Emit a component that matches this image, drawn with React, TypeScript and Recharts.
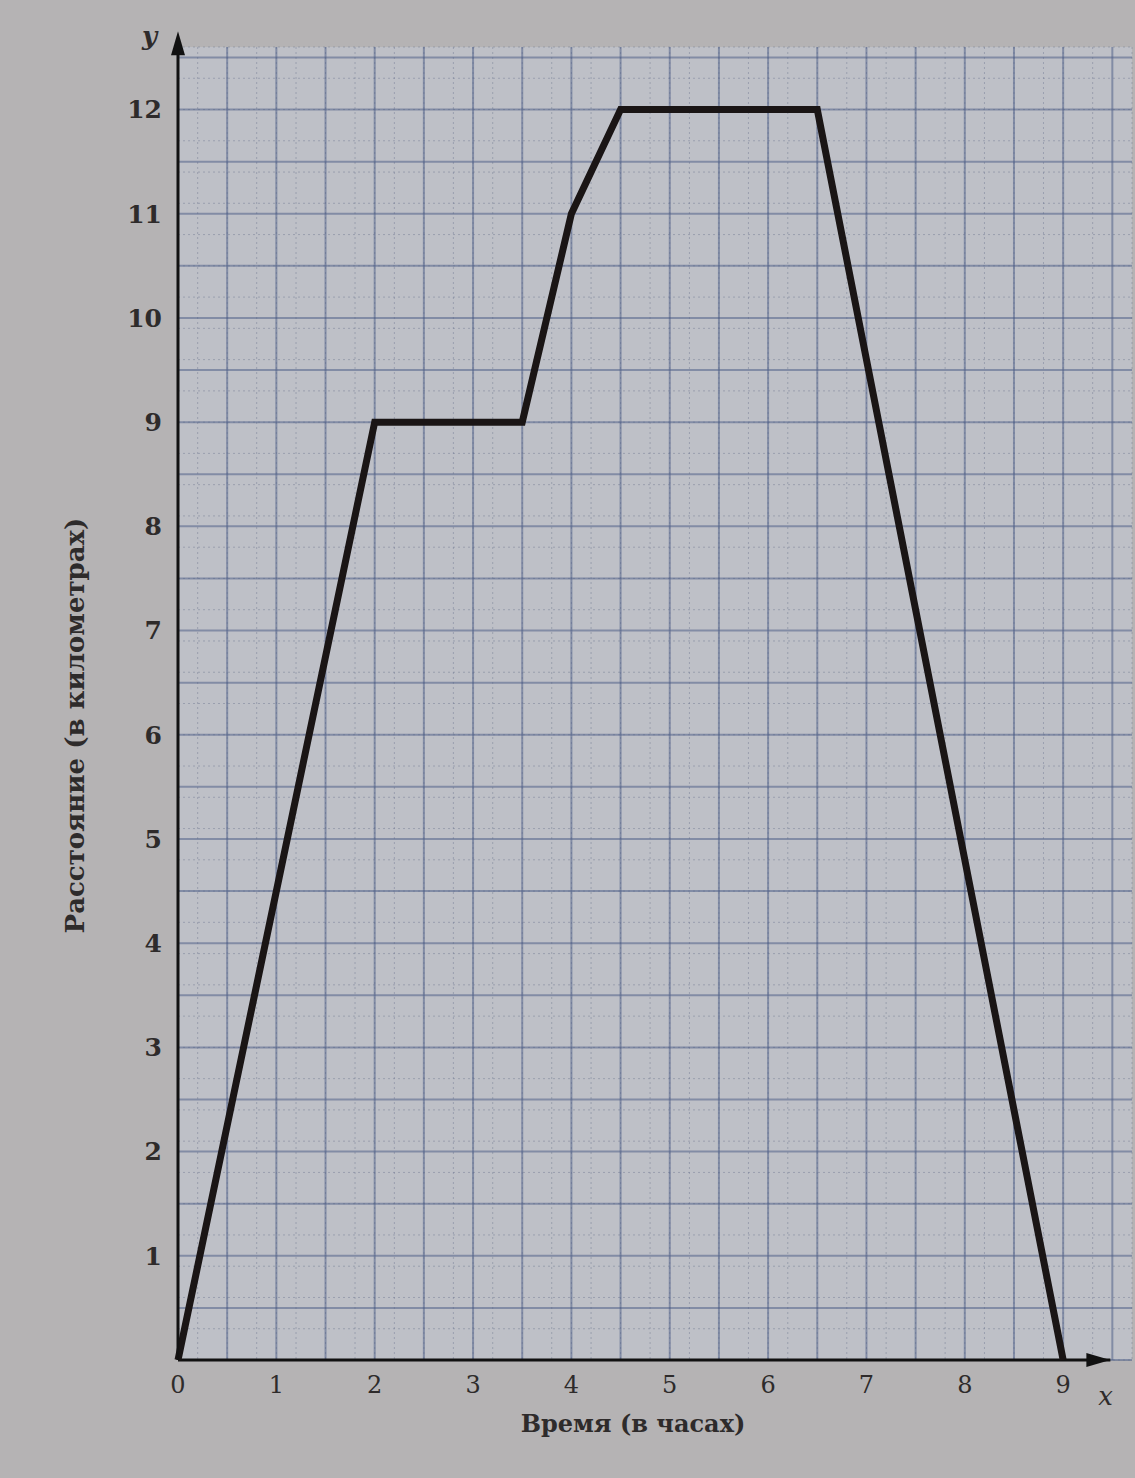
import React from 'react';
import {
  LineChart,
  Line,
  XAxis,
  YAxis,
  CartesianGrid,
  ReferenceDot,
  ReferenceLine,
} from 'recharts';

// Data
const timeHours = [0, 2, 3.5, 4, 4.5, 6.5, 9];
const distanceKm = [0, 9, 9, 11, 12, 12, 0];
const xTicks = [0, 1, 2, 3, 4, 5, 6, 7, 8, 9];
const yTicks = [1, 2, 3, 4, 5, 6, 7, 8, 9, 10, 11, 12];
const xAxisTitle = 'Время (в часах)';
const yAxisTitle = 'Расстояние (в километрах)';

const data = timeHours.map((t, i) => ({ t, d: distanceKm[i] }));

const X_MAX = 9.7;
const Y_MAX = 12.6;
const X_ARROW = 9.48;
const Y_ARROW = 12.75;

const steps = (max: number, step: number) => {
  const out: number[] = [];
  for (let i = 0; i * step <= max + 1e-9; i++) out.push(+(i * step).toFixed(2));
  return out;
};
const minorX = steps(X_MAX, 0.1);
const minorY = steps(Y_MAX, 0.1);
const majorX = steps(X_MAX, 0.5);
const majorY = steps(Y_MAX, 0.5);

const FONT = '"DejaVu Serif", "Liberation Serif", serif';
const TEXT = '#2e2b2b';

const XArrow = (props: any) => {
  const { cx, cy } = props;
  return (
    <g>
      <path d={`M${cx},${cy} L${cx - 24},${cy - 7} L${cx - 24},${cy + 7} Z`} fill="#111" />
      <text x={cx - 12} y={cy + 45} fontFamily={FONT} fontStyle="italic" fontSize={26} fill={TEXT}>
        x
      </text>
    </g>
  );
};

const YArrow = (props: any) => {
  const { cx, cy } = props;
  return (
    <g>
      <path d={`M${cx},${cy} L${cx - 7},${cy + 24} L${cx + 7},${cy + 24} Z`} fill="#111" />
      <text x={cx - 36} y={cy + 14} fontFamily={FONT} fontStyle="italic" fontWeight="bold" fontSize={26} fill={TEXT}>
        y
      </text>
    </g>
  );
};

export default function App() {
  return (
    <div style={{ width: 1135, height: 1478, background: '#b5b3b4' }}>
      <style>{`body{margin:0;background:#b5b3b4;}`}</style>
      <LineChart
        width={1135}
        height={1478}
        data={data}
        margin={{ top: 47, right: 3, bottom: 88, left: 118 }}
      >
        <CartesianGrid
          fill="#bec0c7"
          stroke="#6f7891"
          strokeWidth={1}
          strokeDasharray="2 3"
          strokeOpacity={0.45}
          horizontalValues={minorY}
          verticalValues={minorX}
        />
        <CartesianGrid
          stroke="#506088"
          strokeWidth={2}
          strokeOpacity={0.55}
          horizontalValues={majorY}
          verticalValues={majorX}
        />
        <XAxis
          type="number"
          dataKey="t"
          domain={[0, X_MAX]}
          ticks={xTicks}
          axisLine={false}
          tickLine={false}
          tickMargin={10}
          height={30}
          tick={{ fontFamily: FONT, fontSize: 24, fill: TEXT }}
          label={{
            content: (p: any) => {
              const vb = p.viewBox || {};
              return (
                <text
                  x={633}
                  y={(vb.y || 1360) + 72}
                  textAnchor="middle"
                  fontFamily={FONT}
                  fontWeight="bold"
                  fontSize={24}
                  fill={TEXT}
                >
                  {xAxisTitle}
                </text>
              );
            },
          }}
        />
        <YAxis
          type="number"
          domain={[0, Y_MAX]}
          ticks={yTicks}
          axisLine={{ stroke: '#111', strokeWidth: 3 }}
          tickLine={false}
          tickMargin={10}
          width={60}
          tick={{ fontFamily: FONT, fontSize: 25, fontWeight: 'bold', fill: TEXT }}
          label={{
            content: (p: any) => {
              const vb = p.viewBox || {};
              const x = (vb.x || 118) - 43;
              const y = (vb.y || 47) + (vb.height || 1313) / 2 + 22;
              return (
                <text
                  x={x}
                  y={y}
                  transform={`rotate(-90, ${x}, ${y})`}
                  textAnchor="middle"
                  dominantBaseline="central"
                  fontFamily={FONT}
                  fontWeight="bold"
                  fontSize={26}
                  fill={TEXT}
                >
                  {yAxisTitle}
                </text>
              );
            },
          }}
        />
        <ReferenceLine
          segment={[
            { x: 0, y: 0 },
            { x: X_ARROW, y: 0 },
          ]}
          stroke="#111"
          strokeWidth={3}
          ifOverflow="visible"
        />
        <ReferenceDot x={X_ARROW} y={0} r={0} ifOverflow="visible" shape={XArrow} />
        <ReferenceDot x={0} y={Y_ARROW} r={0} ifOverflow="visible" shape={YArrow} />
        <Line
          type="linear"
          dataKey="d"
          stroke="#1a1515"
          strokeWidth={7}
          strokeLinejoin="miter"
          dot={false}
          activeDot={false}
          isAnimationActive={false}
        />
      </LineChart>
    </div>
  );
}
